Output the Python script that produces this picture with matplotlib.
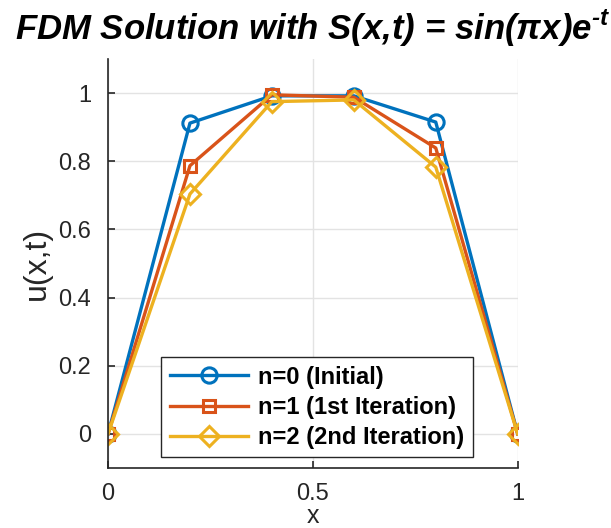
import matplotlib
matplotlib.use("Agg")
import matplotlib.pyplot as plt

plt.rcParams['font.family'] = ['Liberation Sans', 'DejaVu Sans']
plt.rcParams['mathtext.fontset'] = 'custom'
plt.rcParams['mathtext.rm'] = 'Liberation Sans:bold:italic'
plt.rcParams['mathtext.it'] = 'Liberation Sans:bold:italic'
plt.rcParams['mathtext.bf'] = 'Liberation Sans:bold:italic'

x = [0.0, 0.2, 0.4, 0.6, 0.8, 1.0]
u_n0 = [0.0, 0.912, 0.992, 0.992, 0.915, 0.0]
u_n1 = [0.0, 0.787, 0.995, 0.988, 0.839, 0.0]
u_n2 = [0.0, 0.704, 0.975, 0.980, 0.783, 0.0]
labels = ['n=0 (Initial)', 'n=1 (1st Iteration)', 'n=2 (2nd Iteration)']
xticks = [0, 0.5, 1]
yticks = [0, 0.2, 0.4, 0.6, 0.8, 1]

colors = ['#0072BD', '#D95319', '#EDB120']
markers = ['o', 's', 'D']
msizes = [11, 9, 10]

fig = plt.figure(figsize=(6.11, 5.28), dpi=100)
ax_pos = [0.1768, 0.1136, 0.6705, 0.7746]
ax = fig.add_axes(ax_pos)

for y, lab, c, m, ms in zip([u_n0, u_n1, u_n2], labels, colors, markers, msizes):
    ax.plot(x, y, color=c, marker=m, markersize=ms, markerfacecolor='none',
            markeredgewidth=2.2, linewidth=2.4, label=lab)

ax.set_xlim(0, 1)
ax.set_ylim(-0.1, 1.1)
ax.set_xticks(xticks)
ax.set_xticklabels(['0', '0.5', '1'])
ax.set_yticks(yticks)
ax.set_yticklabels(['0', '0.2', '0.4', '0.6', '0.8', '1'])
ax.grid(True, color='#e3e3e3', linewidth=1)
ax.set_axisbelow(True)
for s in ['top', 'right']:
    ax.spines[s].set_visible(False)
for s in ['left', 'bottom']:
    ax.spines[s].set_color('#262626')
    ax.spines[s].set_linewidth(1.2)
ax.tick_params(direction='in', length=5, width=1.2, colors='#262626',
               labelsize=17, pad=12, labelcolor='#262626')
ax.tick_params(axis='x', pad=11)

ax.set_xlabel('x', fontsize=18, color='#262626', va='bottom')
ax.xaxis.set_label_coords(0.5, -ax_pos[1] / ax_pos[3] + 0.001)
ax.set_ylabel('u(x,t)', fontsize=23, color='#262626', labelpad=5)
ax.set_title(r'FDM Solution with S(x,t) = sin($\pi$x)e$^{\text{-t}}$',
             fontsize=25, fontweight='bold', fontstyle='italic', pad=14, color='black')

leg = ax.legend(loc='lower center', bbox_to_anchor=(0.51, 0.015), prop={'weight': 'bold', 'size': 17},
                handlelength=3.3, frameon=True, fancybox=False, borderpad=0.35,
                labelspacing=0.3, handletextpad=0.45, borderaxespad=0.2)
leg.get_frame().set_edgecolor('#262626')
leg.get_frame().set_linewidth(1.0)
leg.get_frame().set_alpha(1)

fig.savefig('out.png', dpi=100)
